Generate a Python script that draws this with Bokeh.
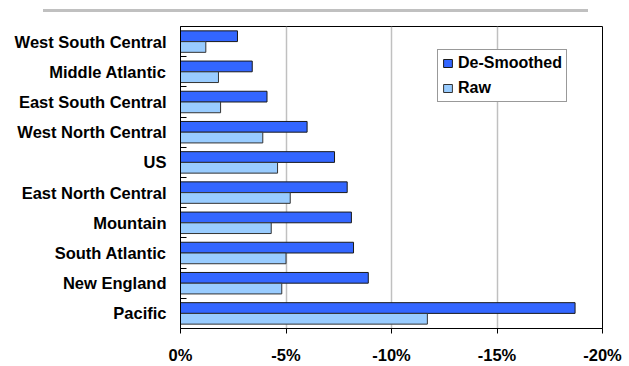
from bokeh.plotting import figure
from bokeh.models import (ColumnDataSource, Range1d, FixedTicker, PrintfTickFormatter,
                          Legend, LegendItem, Div)
from bokeh.layouts import column
from bokeh.transform import dodge
from bokeh.embed import file_html
from bokeh.resources import INLINE

# ---- data (top to bottom as shown) ----
regions = ["West South Central", "Middle Atlantic", "East South Central",
           "West North Central", "US", "East North Central", "Mountain",
           "South Atlantic", "New England", "Pacific"]
desmoothed = [-2.7, -3.4, -4.1, -6.0, -7.3, -7.9, -8.1, -8.2, -8.9, -18.7]
raw = [-1.2, -1.8, -1.9, -3.9, -4.6, -5.2, -4.3, -5.0, -4.8, -11.7]
x_ticks = [0, -5, -10, -15, -20]
series_names = ["De-Smoothed", "Raw"]

FONT = "Liberation Sans"
n = len(regions)
centers = [n - i - 0.5 for i in range(n)]
src = ColumnDataSource(dict(y=centers, region=regions, ds=desmoothed, raw=raw))

p = figure(width=629, height=354, x_range=Range1d(0, -20), y_range=Range1d(0, n),
           output_backend="svg", toolbar_location=None,
           min_border_left=180, min_border_right=27, min_border_top=14,
           min_border_bottom=38, background_fill_color="white",
           border_fill_color="white")
p.outline_line_color = "black"
p.outline_line_width = 1

bh = 0.355
r1 = p.hbar(y=dodge("y", 0.178, range=p.y_range), left=0, right="ds", height=bh,
            source=src, fill_color="#3366FF", line_color="#1a1a1a", line_width=1)
r2 = p.hbar(y=dodge("y", -0.178, range=p.y_range), left=0, right="raw", height=bh,
            source=src, fill_color="#99CCFF", line_color="#333333", line_width=1)

# x axis
xa = p.xaxis[0]
xa.ticker = FixedTicker(ticks=x_ticks, minor_ticks=[])
xa.formatter = PrintfTickFormatter(format="%d%%")
xa.major_tick_out = 5
xa.major_tick_in = 0
xa.minor_tick_out = 0
xa.minor_tick_in = 0
xa.axis_line_color = "black"
xa.major_tick_line_color = "black"
xa.major_label_text_font = FONT
xa.major_label_text_font_style = "bold"
xa.major_label_text_font_size = "16.5px"
xa.major_label_text_color = "black"
xa.major_label_standoff = 12

# y axis: labels at category centres, small inward ticks at boundaries
ya = p.yaxis[0]
ya.ticker = FixedTicker(ticks=centers, minor_ticks=[float(k) for k in range(1, n)])
ya.major_label_overrides = {c: r for c, r in zip(centers, regions)}
ya.major_tick_in = 0
ya.major_tick_out = 0
ya.minor_tick_in = 6
ya.minor_tick_out = 0
ya.minor_tick_line_color = "black"
ya.axis_line_color = "black"
ya.major_label_text_font = FONT
ya.major_label_text_font_style = "bold"
ya.major_label_text_font_size = "16.5px"
ya.major_label_text_color = "black"
ya.major_label_standoff = 14

p.xgrid.ticker = FixedTicker(ticks=x_ticks[1:-1])
p.xgrid.grid_line_color = "#c0c0c0"
p.xgrid.grid_line_width = 1.5
p.ygrid.grid_line_color = None

legend = Legend(items=[LegendItem(label=series_names[0], renderers=[r1]),
                       LegendItem(label=series_names[1], renderers=[r2])],
                location=(257, 226))
legend.label_text_font = FONT
legend.label_text_font_style = "bold"
legend.label_text_font_size = "16px"
legend.label_text_color = "black"
legend.glyph_width = 11
legend.glyph_height = 10
legend.label_standoff = 5
legend.padding = 4
legend.spacing = 7
legend.margin = 0
legend.border_line_color = "#333333"
legend.border_line_width = 1
legend.background_fill_alpha = 1
p.add_layout(legend, "center")

top = Div(text='<div style="margin-left:43px;margin-top:5px;width:545px;height:3px;'
               'background:#c0c0c0"></div>', width=629, height=12, margin=0)

layout = column(top, p, spacing=0)
open("out.html", "w").write(file_html(layout, INLINE))
